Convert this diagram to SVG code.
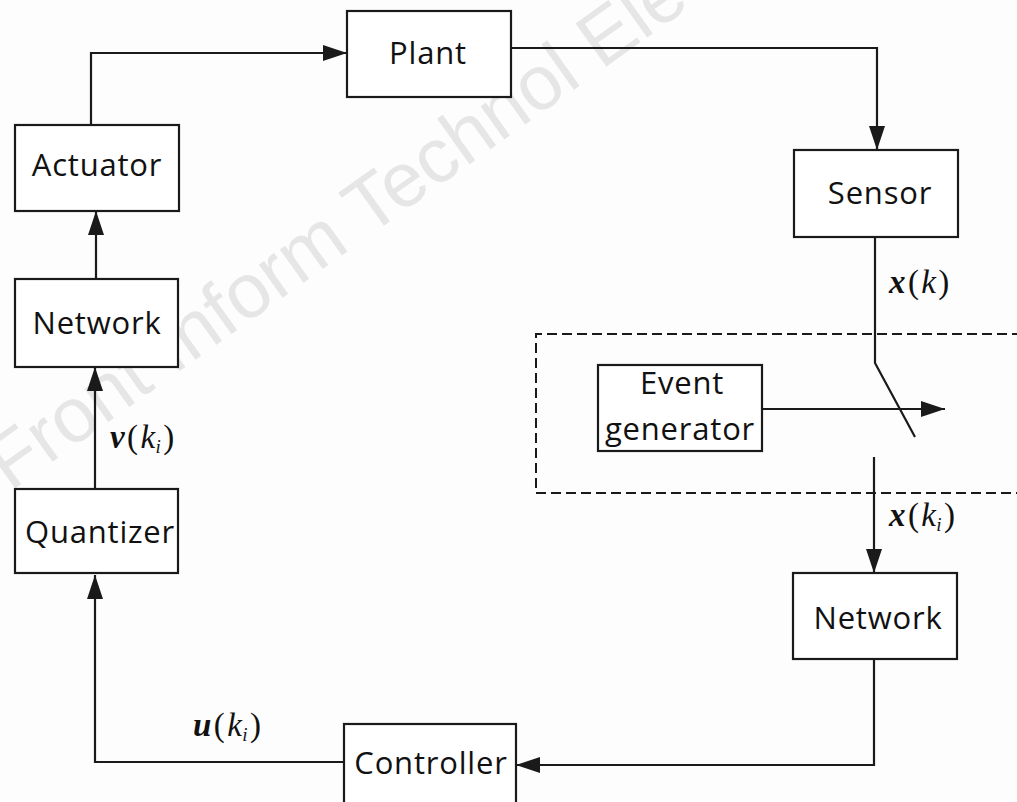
<svg xmlns="http://www.w3.org/2000/svg" width="1017" height="802" viewBox="0 0 1017 802">
  <style>
    .box { fill: #ffffff; stroke: #1a1a1a; stroke-width: 2.2; }
    .lbl { font-family: "Open Sans", "DejaVu Sans", sans-serif; font-size: 31px; letter-spacing: 0.8px; fill: #111; text-anchor: middle; }
    .wire { fill: none; stroke: #1a1a1a; stroke-width: 2.2; }
    .dash { fill: none; stroke: #1a1a1a; stroke-width: 2; stroke-dasharray: 10 5; }
    .math { font-family: "Liberation Serif", "Times New Roman", serif; font-size: 33px; letter-spacing: 2.4px; fill: #111; }
    .sub { font-size: 19px; font-style: italic; }
    .wm { font-family: "Liberation Sans", Arial, sans-serif; font-size: 77px; fill: #e6e6e6; }
  </style>
  <defs>
    <marker id="arrow" markerUnits="userSpaceOnUse" markerWidth="24" markerHeight="16" refX="24" refY="8" orient="auto">
      <path d="M0,0 L24,8 L0,16 Z" fill="#1a1a1a"/>
    </marker>
  </defs>

  <rect width="1017" height="802" fill="#fdfdfd"/>

  <!-- background watermark -->
  <text class="wm" transform="translate(10,492) rotate(-35.5)">Front Inform Technol Elec</text>

  <!-- signal connectors -->
  <g id="connectors">
    <path class="wire" d="M91,125 V53 H347" marker-end="url(#arrow)"/>
    <path class="wire" d="M511,48 H877 V150" marker-end="url(#arrow)"/>
    <path class="wire" d="M875,237 V363 L915,437"/>
    <path class="wire" d="M762,409 H945" marker-end="url(#arrow)"/>
    <path class="wire" d="M874,457 V573" marker-end="url(#arrow)"/>
    <path class="wire" d="M874,659 V765 H516" marker-end="url(#arrow)"/>
    <path class="wire" d="M344,762 H95 V575" marker-end="url(#arrow)"/>
    <path class="wire" d="M95,489 V367" marker-end="url(#arrow)"/>
    <path class="wire" d="M96,279 V211" marker-end="url(#arrow)"/>
  </g>

  <!-- event-triggered sampling region -->
  <path id="trigger-region" class="dash" d="M1022,334 H536 V493 H1022"/>

  <g id="plant">
    <rect class="box" x="347" y="11" width="164" height="86"/>
    <text class="lbl" x="428" y="64">Plant</text>
  </g>
  <g id="sensor">
    <rect class="box" x="794" y="150" width="164" height="87"/>
    <text class="lbl" x="880" y="204">Sensor</text>
  </g>
  <g id="actuator">
    <rect class="box" x="15" y="125" width="164" height="86"/>
    <text class="lbl" x="97" y="176">Actuator</text>
  </g>
  <g id="network-left">
    <rect class="box" x="15" y="279" width="163" height="88"/>
    <text class="lbl" x="97" y="334">Network</text>
  </g>
  <g id="quantizer">
    <rect class="box" x="15" y="489" width="163" height="84"/>
    <text class="lbl" x="100" y="543">Quantizer</text>
  </g>
  <g id="event-generator">
    <rect class="box" x="598" y="365" width="164" height="86"/>
    <text class="lbl" x="682" y="394">Event</text>
    <text class="lbl" x="680" y="440">generator</text>
  </g>
  <g id="network-right">
    <rect class="box" x="793" y="573" width="164" height="86"/>
    <text class="lbl" x="878" y="629">Network</text>
  </g>
  <g id="controller">
    <rect class="box" x="344" y="724" width="172" height="90"/>
    <text class="lbl" x="431" y="774">Controller</text>
  </g>

  <!-- signal labels -->
  <g id="signal-labels">
    <text class="math" x="889" y="293"><tspan font-weight="bold" font-style="italic">x</tspan>(<tspan font-style="italic">k</tspan>)</text>
    <text class="math" x="889" y="526"><tspan font-weight="bold" font-style="italic">x</tspan>(<tspan font-style="italic">k</tspan><tspan class="sub" dx="-2" dy="5">i</tspan><tspan dy="-5">)</tspan></text>
    <text class="math" x="110" y="448"><tspan font-weight="bold" font-style="italic">v</tspan>(<tspan font-style="italic">k</tspan><tspan class="sub" dx="-2" dy="5">i</tspan><tspan dy="-5">)</tspan></text>
    <text class="math" x="193" y="736"><tspan font-weight="bold" font-style="italic">u</tspan>(<tspan font-style="italic">k</tspan><tspan class="sub" dx="-2" dy="5">i</tspan><tspan dy="-5">)</tspan></text>
  </g>
</svg>
